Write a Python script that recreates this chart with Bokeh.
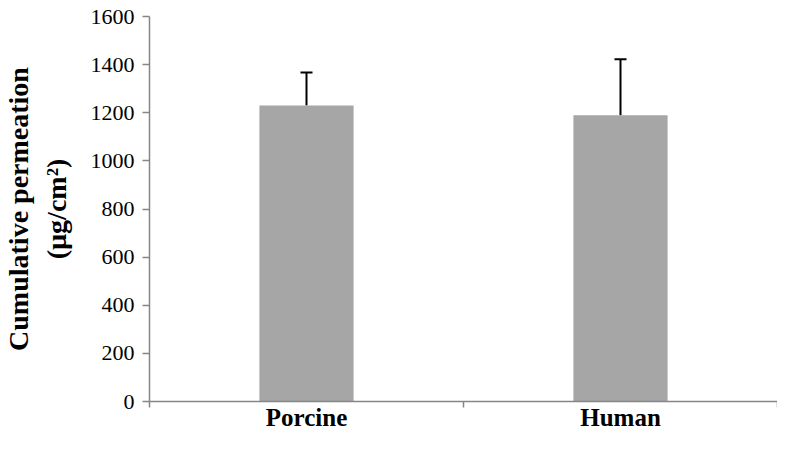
from bokeh.plotting import figure
from bokeh.models import (ColumnDataSource, Range1d, FixedTicker, Whisker, TeeHead)
from bokeh.embed import file_html
from bokeh.resources import INLINE

categories = ["Porcine", "Human"]
permeation = [1230, 1190]
error_sd = [137, 232]
y_ticks = [0, 200, 400, 600, 800, 1000, 1200, 1400, 1600]

FONT = "Liberation Serif"
AXIS_COLOR = "#868686"

n = len(categories)
centers = [i + 0.5 for i in range(n)]
upper = [v + e for v, e in zip(permeation, error_sd)]
src = ColumnDataSource(dict(x=centers, cat=categories, val=permeation, upper=upper, lower=permeation))

p = figure(width=777, height=433, output_backend="svg", toolbar_location=None,
           x_range=Range1d(0, n), y_range=Range1d(0, 1600),
           min_border_left=147, min_border_right=0, min_border_top=16, min_border_bottom=0)
p.outline_line_color = None
p.grid.visible = False

p.vbar(x="x", top="val", width=0.3, source=src, fill_color="#A6A6A6", line_color=None)

w = Whisker(base="x", upper="upper", lower="lower", source=src, dimension="height",
            line_color="black", line_width=2,
            upper_head=TeeHead(size=12, line_color="black", line_width=2), lower_head=None)
p.add_layout(w)

# y axis
ya = p.yaxis[0]
ya.ticker = FixedTicker(ticks=y_ticks, minor_ticks=[])
ya.axis_line_color = AXIS_COLOR
ya.axis_line_width = 1.5
ya.major_tick_line_color = AXIS_COLOR
ya.major_tick_line_width = 1.5
ya.major_tick_out = 7
ya.major_tick_in = 0
ya.minor_tick_line_color = None
ya.major_label_text_font = FONT
ya.major_label_text_font_size = "22px"
ya.major_label_text_color = "black"
ya.major_label_standoff = 8
ya.axis_label = "Cumulative permeation\n(µg/cm²)"
ya.axis_label_text_font = FONT
ya.axis_label_text_font_size = "28px"
ya.axis_label_text_font_style = "bold"
ya.axis_label_text_color = "black"
ya.axis_label_standoff = 16

# x axis: labels at category centers, tick marks at category boundaries
xa = p.xaxis[0]
xa.ticker = FixedTicker(ticks=centers, minor_ticks=list(range(n + 1)))
xa.major_label_overrides = {c: lab for c, lab in zip(centers, categories)}
xa.axis_line_color = AXIS_COLOR
xa.axis_line_width = 1.5
xa.major_tick_line_color = None
xa.minor_tick_line_color = AXIS_COLOR
xa.minor_tick_line_width = 1.5
xa.minor_tick_out = 6
xa.minor_tick_in = 0
xa.major_label_text_font = FONT
xa.major_label_text_font_size = "25px"
xa.major_label_text_font_style = "bold"
xa.major_label_text_color = "black"
xa.major_label_text_line_height = 0.8
xa.major_label_standoff = -4
xa.axis_label_standoff = 0

open("out.html", "w").write(file_html(p, INLINE))
